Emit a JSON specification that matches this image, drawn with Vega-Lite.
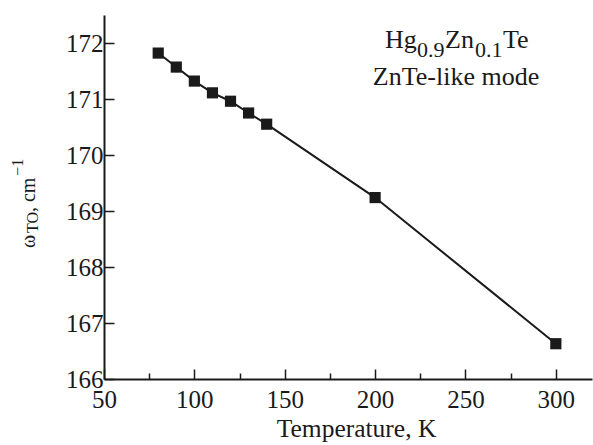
{
  "$schema": "https://vega.github.io/schema/vega-lite/v6.json",
  "autosize": "none",
  "width": 488,
  "height": 364,
  "padding": {"left": 104, "top": 15, "right": 1, "bottom": 66},
  "background": "white",
  "config": {
    "view": {"stroke": null},
    "font": "Liberation Serif",
    "text": {"font": "Liberation Serif"},
    "axis": {
      "grid": false,
      "domainColor": "#1a1a1a",
      "domainWidth": 2,
      "tickColor": "#1a1a1a",
      "tickWidth": 1.5,
      "labelFont": "Liberation Serif",
      "labelFontSize": 25,
      "labelColor": "#1a1a1a",
      "labelFlush": false,
      "labelOverlap": false,
      "titleFont": "Liberation Serif",
      "titleFontWeight": "normal",
      "titleColor": "#1a1a1a"
    }
  },
  "datasets": {
    "points": [
      {"T": 80, "w": 171.82},
      {"T": 90, "w": 171.57},
      {"T": 100, "w": 171.32},
      {"T": 110, "w": 171.11},
      {"T": 120, "w": 170.96},
      {"T": 130, "w": 170.75},
      {"T": 140, "w": 170.55},
      {"T": 200, "w": 169.24},
      {"T": 300, "w": 166.63}
    ],
    "labels": [
      {"text": "Hg", "x": 205.47, "y": 171.905, "part": "main"},
      {"text": "0.9", "x": 223.18, "y": 171.755, "part": "sub"},
      {"text": "Zn", "x": 238.67, "y": 171.905, "part": "main"},
      {"text": "0.1", "x": 255.27, "y": 171.755, "part": "sub"},
      {"text": "Te", "x": 270.76, "y": 171.905, "part": "main"},
      {"text": "ZnTe-like mode", "x": 244.75, "y": 171.25, "part": "center"}
    ],
    "ytitle": [
      {"text": "ω", "x": 11.82, "y": 168.339, "part": "main"},
      {"text": "TO", "x": 13.48, "y": 168.607, "part": "sub"},
      {"text": ", cm", "x": 11.82, "y": 168.982, "part": "main"},
      {"text": "−1", "x": 5.18, "y": 169.63, "part": "sub"}
    ]
  },
  "layer": [
    {
      "data": {"name": "points"},
      "mark": {"type": "line", "color": "#1a1a1a", "strokeWidth": 2},
      "encoding": {
        "x": {
          "field": "T", "type": "quantitative",
          "scale": {"domain": [50, 320], "nice": false, "zero": false},
          "axis": {
            "title": "Temperature, K",
            "titleFontSize": 25.5,
            "titlePadding": 0,
            "titleX": 252,
            "titleAlign": "center",
            "values": [50, 75, 100, 125, 150, 175, 200, 225, 250, 275, 300],
            "labelExpr": "datum.value % 50 === 0 ? format(datum.value, 'd') : ''",
            "tickSize": {"condition": {"test": "datum.value % 50 !== 0", "value": -6}, "value": -10},
            "labelPadding": 18
          }
        },
        "y": {
          "field": "w", "type": "quantitative",
          "scale": {"domain": [166, 172.5], "nice": false, "zero": false},
          "axis": {
            "title": null,
            "values": [166, 166.5, 167, 167.5, 168, 168.5, 169, 169.5, 170, 170.5, 171, 171.5, 172, 172.5],
            "labelExpr": "datum.value % 1 === 0 ? format(datum.value, 'd') : ''",
            "tickSize": {"condition": {"test": "datum.value % 1 !== 0", "value": -6}, "value": -10},
            "labelPadding": 11
          }
        }
      }
    },
    {
      "data": {"name": "points"},
      "mark": {"type": "point", "shape": "square", "filled": true, "size": 125, "color": "#1a1a1a", "opacity": 1},
      "encoding": {
        "x": {"field": "T", "type": "quantitative"},
        "y": {"field": "w", "type": "quantitative"}
      }
    },
    {
      "data": {"name": "labels"},
      "transform": [{"filter": "datum.part === 'main'"}],
      "mark": {"type": "text", "align": "left", "baseline": "alphabetic", "fontSize": 26, "color": "#1a1a1a"},
      "encoding": {
        "x": {"field": "x", "type": "quantitative"},
        "y": {"field": "y", "type": "quantitative"},
        "text": {"field": "text"}
      }
    },
    {
      "data": {"name": "labels"},
      "transform": [{"filter": "datum.part === 'sub'"}],
      "mark": {"type": "text", "align": "left", "baseline": "alphabetic", "fontSize": 22, "color": "#1a1a1a"},
      "encoding": {
        "x": {"field": "x", "type": "quantitative"},
        "y": {"field": "y", "type": "quantitative"},
        "text": {"field": "text"}
      }
    },
    {
      "data": {"name": "labels"},
      "transform": [{"filter": "datum.part === 'center'"}],
      "mark": {"type": "text", "align": "center", "baseline": "alphabetic", "fontSize": 26, "color": "#1a1a1a"},
      "encoding": {
        "x": {"field": "x", "type": "quantitative"},
        "y": {"field": "y", "type": "quantitative"},
        "text": {"field": "text"}
      }
    },
    {
      "data": {"name": "ytitle"},
      "transform": [{"filter": "datum.part === 'main'"}],
      "mark": {"type": "text", "align": "left", "baseline": "alphabetic", "angle": 270, "fontSize": 20, "color": "#1a1a1a"},
      "encoding": {
        "x": {"field": "x", "type": "quantitative"},
        "y": {"field": "y", "type": "quantitative"},
        "text": {"field": "text"}
      }
    },
    {
      "data": {"name": "ytitle"},
      "transform": [{"filter": "datum.part === 'sub'"}],
      "mark": {"type": "text", "align": "left", "baseline": "alphabetic", "angle": 270, "fontSize": 16, "color": "#1a1a1a"},
      "encoding": {
        "x": {"field": "x", "type": "quantitative"},
        "y": {"field": "y", "type": "quantitative"},
        "text": {"field": "text"}
      }
    }
  ]
}
